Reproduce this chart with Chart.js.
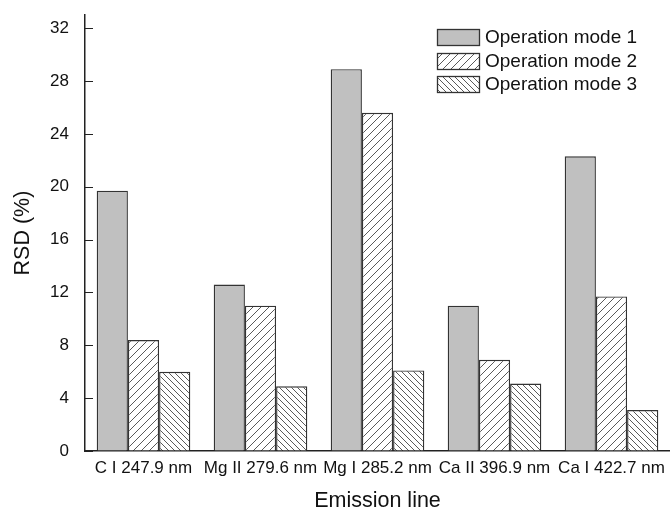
<!DOCTYPE html>
<html>
<head>
<meta charset="utf-8">
<script src="https://cdn.jsdelivr.net/npm/chart.js@4.4.0/dist/chart.umd.min.js"></script>
<style>
  html, body { margin: 0; padding: 0; background: #fff; }
  #wrap { width: 670px; height: 512px; }
</style>
</head>
<body>
<div id="wrap"><canvas id="rsdChart" width="670" height="512"></canvas></div>
<script>
// Líneas de emisión y RSD (%) para cada modo de operación
const lineas = ['C I 247.9 nm', 'Mg II 279.6 nm', 'Mg I 285.2 nm', 'Ca II 396.9 nm', 'Ca I 422.7 nm'];
const modo1 = [19.7, 12.6, 28.9, 11.0, 22.3];
const modo2 = [8.4, 11.0, 25.6, 6.9, 11.7];
const modo3 = [6.0, 4.9, 6.1, 5.1, 3.1];
const nombres = ['Operation mode 1', 'Operation mode 2', 'Operation mode 3'];
const ticksY = [0, 4, 8, 12, 16, 20, 24, 28, 32];

const fuente = "'Liberation Sans', Arial, sans-serif";

// Rayado diagonal para las barras
function rayado(paso, haciaDerecha) {
    const c = document.createElement('canvas');
    c.width = paso; c.height = paso;
    const g = c.getContext('2d');
    g.fillStyle = '#fff';
    g.fillRect(0, 0, paso, paso);
    g.strokeStyle = '#5a5a5a';
    g.lineWidth = 1;
    g.beginPath();
    for (let k = -1; k <= 1; k++) {
        const o = k * paso;
        if (haciaDerecha) {
            g.moveTo(o - 1, paso + 1); g.lineTo(o + paso + 1, -1);
        } else {
            g.moveTo(o - 1, -1); g.lineTo(o + paso + 1, paso + 1);
        }
    }
    g.stroke();
    return g.createPattern(c, 'repeat');
}

// Marcas del eje Y hacia dentro
const marcasY = {
    id: 'marcasY',
    afterDraw(chart) {
        const y = chart.scales.y;
        const c = chart.ctx;
        c.save();
        c.strokeStyle = '#222';
        c.lineWidth = 1.2;
        c.beginPath();
        ticksY.forEach(v => {
            const py = Math.round(y.getPixelForValue(v)) + 0.5;
            c.moveTo(y.right, py);
            c.lineTo(y.right + 8, py);
        });
        c.stroke();
        c.restore();
    }
};

// Leyenda dentro del área de la gráfica
const leyenda = {
    id: 'leyenda',
    afterDraw(chart) {
        const c = chart.ctx;
        const x0 = 437, y0 = 29, w = 42, h = 16, dy = 23.5;
        c.save();
        chart.data.datasets.forEach((ds, i) => {
            const y = Math.round(y0 + i * dy);
            c.fillStyle = ds.backgroundColor;
            c.fillRect(x0, y, w, h);
            c.strokeStyle = '#333';
            c.lineWidth = 1.3;
            c.strokeRect(x0 + 0.5, y + 0.5, w, h);
            c.fillStyle = '#111';
            c.font = '19px ' + fuente;
            c.textBaseline = 'middle';
            c.fillText(ds.label, x0 + w + 6, y + h / 2 + 1);
        });
        c.restore();
    }
};

const ctx = document.getElementById('rsdChart').getContext('2d');

const rsdChart = new Chart(ctx, {
    type: 'bar',
    data: {
        labels: lineas,
        datasets: [
            { label: nombres[0], data: modo1, backgroundColor: '#c0c0c0' },
            { label: nombres[1], data: modo2, backgroundColor: rayado(8, true) },
            { label: nombres[2], data: modo3, backgroundColor: rayado(6, false) }
        ].map(d => Object.assign(d, { borderColor: '#333', borderWidth: 1.4, borderSkipped: 'start' }))
    },
    options: {
        responsive: false,
        animation: false,
        categoryPercentage: 0.8,
        barPercentage: 1.0,
        layout: { padding: { left: 0, top: 15, right: 0, bottom: 0 } },
        plugins: {
            legend: { display: false },
            tooltip: { enabled: false }
        },
        scales: {
            x: {
                grid: { display: true, drawOnChartArea: false, drawTicks: false },
                border: { color: '#222', width: 1.5 },
                ticks: { color: '#111', font: { family: fuente, size: 17 }, padding: 7, maxRotation: 0, autoSkip: false },
                title: { display: true, text: 'Emission line', color: '#111', font: { family: fuente, size: 21.5, lineHeight: 1.0 }, padding: { top: 0, bottom: 0 } },
                afterFit(scale) { scale.height = 61; scale.paddingLeft = 0; scale.paddingRight = 0; }
            },
            y: {
                min: 0,
                max: 33,
                afterBuildTicks(scale) { scale.ticks = ticksY.map(v => ({ value: v })); },
                grid: { display: true, drawOnChartArea: false, drawTicks: false },
                border: { color: '#222', width: 1.5 },
                ticks: { color: '#111', font: { family: fuente, size: 17 }, padding: 16 },
                title: { display: true, text: 'RSD (%)', color: '#111', font: { family: fuente, size: 21.5 }, padding: { top: 10, bottom: 0 } },
                afterFit(scale) { scale.width = 85; scale.paddingTop = 0; scale.paddingBottom = 0; }
            }
        }
    },
    plugins: [marcasY, leyenda]
});
</script>
</body>
</html>
